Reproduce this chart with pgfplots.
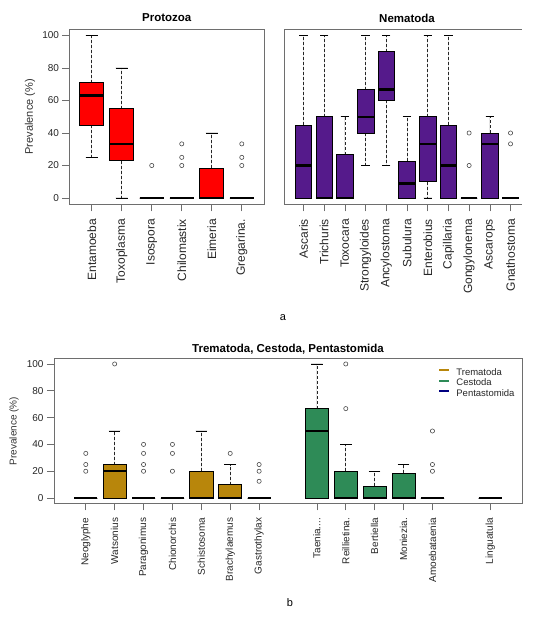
\documentclass[border=0pt]{standalone}
\usepackage{fontspec}
\setmainfont{Liberation Sans}
\usepackage{pgfplots}
\pgfplotsset{compat=1.18}
\usepgfplotslibrary{statistics}

\definecolor{protored}{HTML}{FF0000}
\definecolor{nemapurple}{HTML}{551A8B}
\definecolor{tremagold}{HTML}{B8860B}
\definecolor{cestgreen}{HTML}{2E8B57}
\definecolor{pentanavy}{HTML}{000080}
\definecolor{framegray}{HTML}{6E6E6E}

\newcommand\fs[1]{\fontsize{#1bp}{#1bp}\selectfont}

\pgfplotsset{
  panel/.style={
    scale only axis,
    ymin=-4, ymax=104,
    ytick={0,20,40,60,80,100},
    xtick pos=bottom, ytick pos=left,
    tick align=outside,
    major tick length=7bp,
    every tick/.style={framegray, line width=0.6bp},
    axis line style={framegray, line width=0.7bp},
    /pgf/number format/assume math mode=true,
    xticklabel style={rotate=90, anchor=east, text=black!85},
    xticklabel shift=4bp,
    yticklabel style={text=black!85},
    ylabel={Prevalence (\%)},
    clip=false,
  },
  rbox/.style={
    boxplot/draw direction=y,
    boxplot/box extend=0.8,
    boxplot/whisker extend=0.4,
    draw=black, line width=0.6bp,
    mark=o, mark size=2.1bp,
    mark options={draw=black!70, fill=none, solid, line width=0.6bp},
    boxplot/every median/.style={draw=black, line width=2.4bp},
    boxplot/draw/lower whisker/.code={%
      \draw[dash pattern=on 3bp off 2bp, black!85, line width=0.6bp]
        (boxplot cs:\pgfplotsboxplotvalue{lower quartile}) --
        (boxplot cs:\pgfplotsboxplotvalue{lower whisker});
      \draw[solid, black, line width=0.6bp]
        (boxplot whisker cs:\pgfplotsboxplotvalue{lower whisker},0) --
        (boxplot whisker cs:\pgfplotsboxplotvalue{lower whisker},1);
    },
    boxplot/draw/upper whisker/.code={%
      \draw[dash pattern=on 3bp off 2bp, black!85, line width=0.6bp]
        (boxplot cs:\pgfplotsboxplotvalue{upper quartile}) --
        (boxplot cs:\pgfplotsboxplotvalue{upper whisker});
      \draw[solid, black, line width=0.6bp]
        (boxplot whisker cs:\pgfplotsboxplotvalue{upper whisker},0) --
        (boxplot whisker cs:\pgfplotsboxplotvalue{upper whisker},1);
    },
  },
}

\begin{document}
\begin{tikzpicture}
\path[use as bounding box] (0bp,0bp) rectangle (536bp,618bp);

% ---------------- Protozoa ----------------
\begin{axis}[panel,
  at={(69.5bp,413.5bp)}, anchor=south west,
  width=194.5bp, height=175.5bp,
  xmin=0.26, xmax=6.74,
  xtick={1,2,3,4,5,6},
  xticklabels={Entamoeba,Toxoplasma,Isospora,Chilomastix,Eimeria,Gregarina.},
  xticklabel style={font=\fs{12}},
  yticklabel style={font=\fs{10}},
  ylabel style={at={(axis description cs:-0.203,0.5)}, anchor=center, font=\fs{11}, text=black!80},
  title={Protozoa},
  title style={at={(0.5,1)}, anchor=center, yshift=5bp, font=\bfseries\fs{11.5}},
]
\addplot[rbox, fill=protored, boxplot prepared={draw position=1, lower whisker=25, lower quartile=45, median=63, upper quartile=71, upper whisker=100}] coordinates {};
\addplot[rbox, fill=protored, boxplot prepared={draw position=2, lower whisker=0, lower quartile=22.9, median=33.3, upper quartile=55, upper whisker=80}] coordinates {};
\addplot[rbox, fill=protored, boxplot prepared={draw position=3, lower whisker=0, lower quartile=0, median=0, upper quartile=0, upper whisker=0}] coordinates {(0,20)};
\addplot[rbox, fill=protored, boxplot prepared={draw position=4, lower whisker=0, lower quartile=0, median=0, upper quartile=0, upper whisker=0}] coordinates {(0,20) (0,25) (0,33.3)};
\addplot[rbox, fill=protored, boxplot prepared={draw position=5, lower whisker=0, lower quartile=0, median=0, upper quartile=18.2, upper whisker=40}] coordinates {};
\addplot[rbox, fill=protored, boxplot prepared={draw position=6, lower whisker=0, lower quartile=0, median=0, upper quartile=0, upper whisker=0}] coordinates {(0,20) (0,25) (0,33.3)};
\end{axis}

% ---------------- Nematoda ----------------
\begin{axis}[panel,
  at={(284bp,413.5bp)}, anchor=south west,
  width=246bp, height=175.5bp,
  xmin=0.06, xmax=11.94,
  axis line style={draw=none},
  xtick={1,2,3,4,5,6,7,8,9,10,11},
  xticklabels={Ascaris,Trichuris,Toxocara,Strongyloides,Ancylostoma,Subulura,Enterobius,Capillaria,Gongylonema,Ascarops,Gnathostoma},
  xticklabel style={font=\fs{12}},
  ytick=\empty, ylabel={},
  title={Nematoda},
  title style={at={(0.5,1)}, anchor=center, yshift=5bp, font=\bfseries\fs{11.5}},
]
\draw[framegray, line width=0.7bp] (axis cs:11.54,104) -- (axis cs:0.06,104) -- (axis cs:0.06,-4) -- (axis cs:11.54,-4);
\addplot[rbox, fill=nemapurple, boxplot prepared={draw position=1, lower whisker=0, lower quartile=0, median=20, upper quartile=45, upper whisker=100}] coordinates {};
\addplot[rbox, fill=nemapurple, boxplot prepared={draw position=2, lower whisker=0, lower quartile=0, median=0, upper quartile=50, upper whisker=100}] coordinates {};
\addplot[rbox, fill=nemapurple, boxplot prepared={draw position=3, lower whisker=0, lower quartile=0, median=0, upper quartile=26.7, upper whisker=50}] coordinates {};
\addplot[rbox, fill=nemapurple, boxplot prepared={draw position=4, lower whisker=20, lower quartile=40, median=50, upper quartile=66.7, upper whisker=100}] coordinates {};
\addplot[rbox, fill=nemapurple, boxplot prepared={draw position=5, lower whisker=20, lower quartile=60, median=66.7, upper quartile=90, upper whisker=100}] coordinates {};
\addplot[rbox, fill=nemapurple, boxplot prepared={draw position=6, lower whisker=0, lower quartile=0, median=9, upper quartile=22.5, upper whisker=50}] coordinates {};
\addplot[rbox, fill=nemapurple, boxplot prepared={draw position=7, lower whisker=0, lower quartile=10, median=33.3, upper quartile=50, upper whisker=100}] coordinates {};
\addplot[rbox, fill=nemapurple, boxplot prepared={draw position=8, lower whisker=0, lower quartile=0, median=20, upper quartile=45, upper whisker=100}] coordinates {};
\addplot[rbox, fill=nemapurple, boxplot prepared={draw position=9, lower whisker=0, lower quartile=0, median=0, upper quartile=0, upper whisker=0}] coordinates {(0,20) (0,40)};
\addplot[rbox, fill=nemapurple, boxplot prepared={draw position=10, lower whisker=0, lower quartile=0, median=33.3, upper quartile=40, upper whisker=50}] coordinates {};
\addplot[rbox, fill=nemapurple, boxplot prepared={draw position=11, lower whisker=0, lower quartile=0, median=0, upper quartile=0, upper whisker=0}] coordinates {(0,33.3) (0,40)};
\end{axis}

\node[font=\fs{11}] at (283bp,300bp) {a};

% ---------------- Trematoda, Cestoda, Pentastomida ----------------
\begin{axis}[panel,
  at={(54bp,114.6bp)}, anchor=south west,
  width=468bp, height=144.8bp,
  xmin=-0.1, xmax=16.1,
  xtick={1,2,3,4,5,6,7,9,10,11,12,13,15},
  xticklabels={Neoglyphe,Watsonius,Paragonimus,Chionorchis,Schistosoma,Brachylaemus,Gastrothylax,{Taenia{.}{.}{.}{.}},{Reillietina.},Bertiella,{Moniezia.},Amoebataenia,Linguatula},
  xticklabel style={font=\fs{10}},
  yticklabel style={font=\fs{10}},
  ylabel style={at={(axis description cs:-0.0855,0.5)}, anchor=center, font=\fs{10}, text=black!80},
  title={Trematoda, Cestoda, Pentastomida},
  title style={at={(0.5,1)}, anchor=center, yshift=3.5bp, font=\bfseries\fs{11.5}},
  legend style={at={(axis description cs:0.822,0.943)}, anchor=north west, draw=none, fill=none,
    font=\fs{9.5}, inner sep=0pt, row sep=-1bp, nodes={inner sep=1.5bp, text=black!85}},
  legend cell align=left,
  legend image code/.code={\path[#1] (0bp,1.6bp) rectangle (10bp,3.4bp); \path (16bp,2.5bp);},
  legend entries={Trematoda,Cestoda,Pentastomida},
]
\addlegendimage{fill=tremagold, draw=none}
\addlegendimage{fill=cestgreen, draw=none}
\addlegendimage{fill=pentanavy, draw=none}
\addplot[rbox, fill=tremagold, boxplot prepared={draw position=1, lower whisker=0, lower quartile=0, median=0, upper quartile=0, upper whisker=0}] coordinates {(0,20) (0,25) (0,33.3)};
\addplot[rbox, fill=tremagold, boxplot prepared={draw position=2, lower whisker=0, lower quartile=0, median=20, upper quartile=25, upper whisker=50}] coordinates {(0,100)};
\addplot[rbox, fill=tremagold, boxplot prepared={draw position=3, lower whisker=0, lower quartile=0, median=0, upper quartile=0, upper whisker=0}] coordinates {(0,20) (0,25) (0,33.3) (0,40)};
\addplot[rbox, fill=tremagold, boxplot prepared={draw position=4, lower whisker=0, lower quartile=0, median=0, upper quartile=0, upper whisker=0}] coordinates {(0,20) (0,33.3) (0,40)};
\addplot[rbox, fill=tremagold, boxplot prepared={draw position=5, lower whisker=0, lower quartile=0, median=0, upper quartile=20, upper whisker=50}] coordinates {};
\addplot[rbox, fill=tremagold, boxplot prepared={draw position=6, lower whisker=0, lower quartile=0, median=0, upper quartile=10, upper whisker=25}] coordinates {(0,33.3)};
\addplot[rbox, fill=tremagold, boxplot prepared={draw position=7, lower whisker=0, lower quartile=0, median=0, upper quartile=0, upper whisker=0}] coordinates {(0,12.5) (0,20) (0,25)};
\addplot[rbox, fill=cestgreen, boxplot prepared={draw position=9, lower whisker=0, lower quartile=0, median=50, upper quartile=66.7, upper whisker=100}] coordinates {};
\addplot[rbox, fill=cestgreen, boxplot prepared={draw position=10, lower whisker=0, lower quartile=0, median=0, upper quartile=20, upper whisker=40}] coordinates {(0,66.7) (0,100)};
\addplot[rbox, fill=cestgreen, boxplot prepared={draw position=11, lower whisker=0, lower quartile=0, median=0, upper quartile=8.7, upper whisker=20}] coordinates {};
\addplot[rbox, fill=cestgreen, boxplot prepared={draw position=12, lower whisker=0, lower quartile=0, median=0, upper quartile=18.7, upper whisker=25}] coordinates {};
\addplot[rbox, fill=cestgreen, boxplot prepared={draw position=13, lower whisker=0, lower quartile=0, median=0, upper quartile=0, upper whisker=0}] coordinates {(0,20) (0,25) (0,50)};
\addplot[rbox, fill=pentanavy, boxplot prepared={draw position=15, lower whisker=0, lower quartile=0, median=0, upper quartile=0, upper whisker=0}] coordinates {};
\end{axis}

\node[font=\fs{11}] at (290bp,15bp) {b};
\end{tikzpicture}
\end{document}
